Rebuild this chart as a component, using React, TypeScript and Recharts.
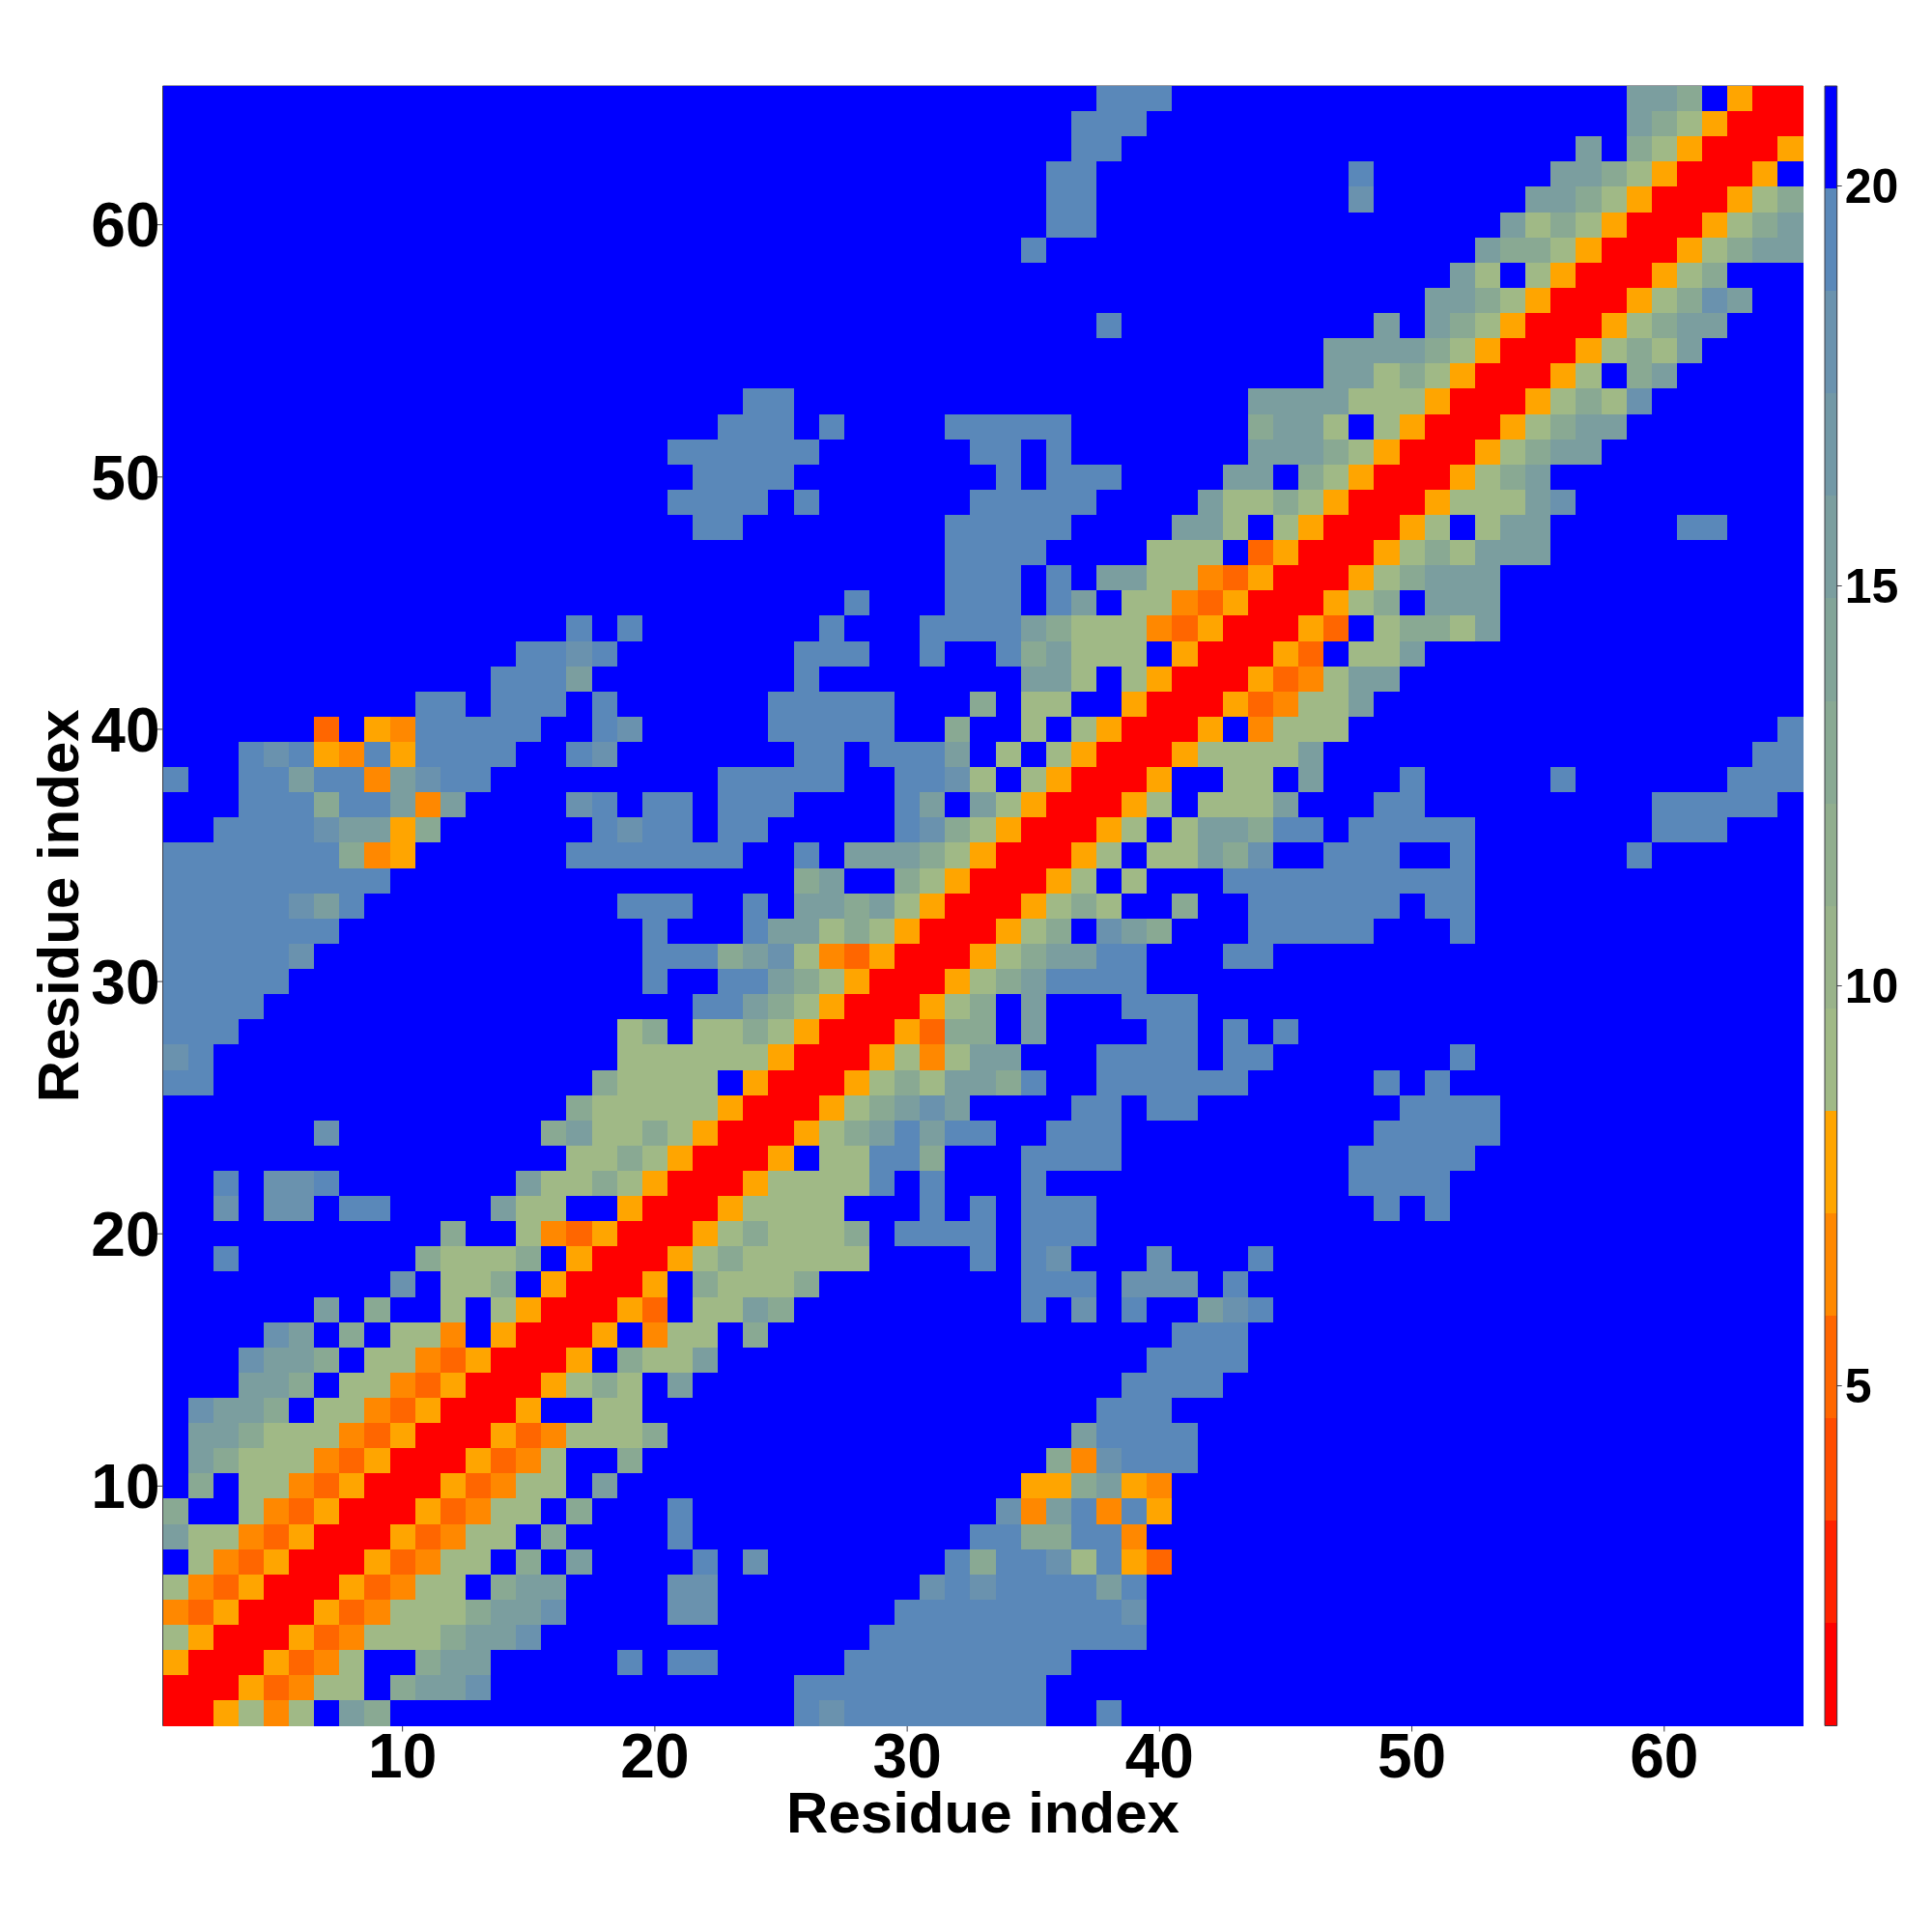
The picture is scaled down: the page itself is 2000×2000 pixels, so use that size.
import { ScatterChart, Scatter, BarChart, Bar, XAxis, YAxis } from 'recharts'

// Contact map rows from residue 65 (top) down to residue 1, as "column(s)+level" runs. Anything not listed is blue.
const contactRuns: string[] = [
  '38-40s 59-60u 61v 63a 64-65r',
  '37-39s 59u 60v 61g 62a 63-65r',
  '37-38s 57u 59v 60g 61a 62-64r 65a',
  '36-37s 48s 56-57u 58v 59g 60a 61-63r 64a',
  '36-37s 48t 55-56u 57v 58g 59a 60-62r 63a 64g 65v',
  '36-37s 54u 55g 56v 57g 58a 59-61r 62a 63g 64v 65u',
  '35s 53u 54-55v 56g 57a 58-60r 61a 62g 63v 64-65u',
  '52u 53g 55g 56a 57-59r 60a 61g 62v',
  '51-52u 53v 54g 55a 56-58r 59a 60g 61v 62t 63u',
  '38s 49u 51u 52v 53g 54a 55-57r 58a 59g 60v 61-62u',
  '47-50u 51v 52g 53a 54-56r 57a 58g 59v 60g 61u',
  '47-48u 49g 50v 51g 52a 53-55r 56a 57g 59v 60u',
  '24-25s 44-47u 48-50g 51a 52-54r 55a 56g 57v 58g 59t',
  '23-25s 27s 32-36s 44v 45-46u 47g 49g 50a 51-53r 54a 55g 56v 57-58u',
  '21-26s 33-34s 36s 44-46u 47v 48g 49a 50-52r 53a 54g 55v 56-57u',
  '22-25s 34s 36-38s 43-44u 46v 47g 48a 49-51r 52a 53g 54v 55u',
  '21-24s 26s 33-37s 42u 43-44g 45v 46g 47a 48-50r 51a 52-54g 55u 56t',
  '22-23s 32-36s 41-42u 43g 45g 46a 47-49r 50a 51g 53g 54-55u 61-62s',
  '32-35s 40-42g 44d 45a 46-48r 49a 50g 51v 52g 53-55u',
  '32-34s 36s 38-39u 40-41g 42o 43d 44a 45-47r 48a 49g 50v 51-53u',
  '28s 32-34s 36s 37u 39-40g 41o 42d 43a 44-46r 47a 48g 49v 51-53u',
  '17s 19s 27s 31-34s 35u 36v 37-39g 40o 41d 42a 43-45r 46a 47d 49g 50-51v 52g 53u',
  '15-16s 17t 18s 26-28s 31s 34s 35v 36u 37-39g 41a 42-44r 45a 46d 48-49g 50u',
  '14-16s 17u 26s 35-36u 37g 39g 40a 41-43r 44a 45d 46o 47g 48-49u',
  '11-12s 14-16s 18s 25-29s 33v 35-36g 39a 40-42r 43a 44d 45o 46-47g 48u',
  '7d 9a 10o 11-15s 18s 19t 25-29s 32v 35g 37g 38a 39-41r 42a 44o 45-47g 65s',
  '4s 5t 6s 7a 8o 9s 10a 11-14s 17s 18t 26-27s 29-31s 32u 34g 36g 37a 38-40r 41a 42-45g 46u 64-65s',
  '1s 4-5s 6u 7-8s 9o 10u 11t 12-13s 23-27s 30-31s 32t 33g 35g 36a 37-39r 40a 43-44g 46u 50s 56s 63-65s',
  '4-6s 7v 8-9s 10u 11o 12u 17t 18s 20-21s 23-25s 30s 31u 33u 34g 35a 36-38r 39a 40g 42-44g 45u 49-50s 60-64s',
  '3-6s 7t 8-9u 10a 11v 18s 19t 20-21s 23-24s 30s 31t 32v 33g 34a 35-37r 38a 39g 41g 42-43u 44v 45-46s 48-52s 60-62s',
  '1-7s 8v 9o 10a 17-23s 26s 28-30u 31v 32g 33a 34-36r 37a 38g 40-41g 42u 43v 44t 47-49s 52s 59s',
  '1-9s 26v 27u 30v 31g 32a 33-35r 36a 37g 39g 43-52s',
  '1-5s 6t 7u 8s 19-21s 24s 26-27u 28v 29u 30g 31a 32-34r 35a 36g 37v 38g 41v 44-49s 51-52s',
  '1-7s 20s 24s 25-26u 27g 28v 29g 30a 31-33r 34a 35g 36v 38t 39u 40v 44-48s 52s',
  '1-5s 6t 20-22s 23v 24u 25t 26g 27o 28d 29a 30-32r 33a 34g 35v 36-37u 38-39s 43-44s',
  '1-5s 20s 23-24s 25u 26v 27g 28a 29-31r 32a 33g 34v 35u 36-39s',
  '1-4s 22-23s 24u 25v 26g 27a 28-30r 31a 32g 33v 35u 39-41s',
  '1-3s 19g 20v 22-23g 24v 25g 26a 27-29r 30a 31d 32-33v 35u 40-41s 43s 45s',
  '1t 2s 19-24g 25a 26-28r 29a 30g 31o 32g 33-34u 38-41s 43-44s 52s',
  '1-2s 18v 19-22g 24a 25-27r 28a 29g 30v 31g 32-33u 34v 35s 38-43s 49s 51s',
  '17v 18-22g 23a 24-26r 27a 28g 29v 30u 31t 32u 37-38s 40-41s 50-53s',
  '7t 16v 17u 18-19g 20v 21g 22a 23-25r 26a 27g 28v 29u 30s 31u 32-33s 36-38s 49-53s',
  '17-18g 19v 20g 21a 22-24r 25a 27-28g 29-30s 31v 35-38s 48-52s',
  '3s 5-6t 7s 15u 16-17g 18v 19g 20a 21-23r 24a 25-28g 29s 31s 35s 48-51s',
  '3t 5-6t 8-9s 14u 15-16g 19a 20-22r 23a 24-27g 31s 33s 35-37s 49s 51s',
  '12v 15g 16o 17d 18a 19-21r 22a 23g 24v 25-27g 28v 30-33s 35-37s',
  '3s 11v 12-14g 15v 17a 18-20r 21a 22g 23v 24-28g 33s 35s 36t 40t 44s',
  '10t 12-13g 14v 16a 17-19r 20a 22v 23-25g 26v 35-37s 39-41t 43s',
  '7u 9v 12g 14g 15a 16-18r 19a 20d 22-23g 24u 25v 35s 37t 39s 42u 43t 44s',
  '5t 6u 8v 10-11g 12o 14a 15-17r 18a 20o 21-22g 24v 41-43s',
  '4t 5-6u 7v 9-10g 11o 12d 13a 14-16r 17a 19v 20-21g 22u 40-43s',
  '4-5u 6v 8-9g 10o 11d 12a 13-15r 16a 17g 18v 19g 21u 39-42s',
  '2t 3-4u 5v 7-8g 9o 10d 11a 12-14r 15a 18-19g 38-40s',
  '2-3u 4v 5-7g 8o 9d 10a 11-13r 14a 15d 16o 17-19g 20v 37u 38-41s',
  '2u 3v 4-6g 7o 8d 9a 10-12r 13a 14d 15o 16g 19v 36v 37o 38t 39-41s',
  '2v 4-5g 6o 7d 8a 9-11r 12a 13d 14o 15-16g 18u 35-36a 37v 38u 39a 40o',
  '1v 4g 5o 6d 7a 8-10r 11a 12d 13o 14-15g 17v 21s 34t 35o 36u 37s 38o 39s 40a',
  '1u 2-3g 4o 5d 6a 7-9r 10a 11d 12o 13-14g 16v 21s 33-34s 35-36v 37-38s 39o',
  '2g 3o 4d 5a 6-8r 9a 10d 11o 12-13g 15v 17u 22s 24t 32s 33v 34-35s 36t 37g 38s 39a 40d',
  '1g 2o 3d 4a 5-7r 8a 9d 10o 11-12g 14v 15-16u 21-22t 31t 32s 33t 34-37s 38u 39s',
  '1o 2d 3a 4-6r 7a 8d 9o 10-12g 13v 14-15u 16t 21-22t 30-38s 39t',
  '1g 2a 3-5r 6a 7d 8o 9-11g 12v 13-14u 15t 29-39s',
  '1a 2-4r 5a 6d 7o 8g 11v 12-13u 19s 21-22s 28-36s',
  '1-3r 4a 5d 6o 7-8g 10v 11-12u 13t 26-35s',
  '1-2r 3a 4g 5o 6g 8u 9v 26s 27t 28-35s 38s',
]

// representative distance (angstrom) for each level letter
const levelValues: Record<string, number> = {
  r: 1.4, d: 5.2, o: 6.5, a: 7.8, g: 9.1, v: 12.9, u: 15.5, t: 18, s: 19.3,
}
const noContactValue = 20.6

const bandColors = [
  '#ff0000', '#ff2200', '#ff4c00', '#ff6600', '#ff8800', '#ffa500',
  '#a0b986', '#99b38a', '#91ae8e', '#89a993', '#82a498', '#7b9e9f',
  '#7298a6', '#6a92ae', '#5a88b9', '#0000ff',
]
const colorMin = 0.75
const colorMax = 21.25
const bandStep = (colorMax - colorMin) / bandColors.length

const residueTicks = [10, 20, 30, 40, 50, 60]
const colorTicks = [5, 10, 15, 20]

const FONT = '"Liberation Sans", Arial, sans-serif'
const PLOT_LEFT = 168.5
const PLOT_RIGHT = 1866.5
const PLOT_TOP = 89
const PLOT_BOTTOM = 1786.5
const CELL_W = (PLOT_RIGHT - PLOT_LEFT) / 65
const CELL_H = (PLOT_BOTTOM - PLOT_TOP) / 65
const FRAME = '#3c3c46'

function colorFor(value: number) {
  const i = Math.min(bandColors.length - 1, Math.floor((value - colorMin) / bandStep))
  return bandColors[i]
}

interface Cell {
  x: number
  y: number
  value: number
}

function buildCells(): Cell[] {
  const cells: Cell[] = []
  contactRuns.forEach((runs, r) => {
    const y = 65 - r
    const values: number[] = new Array(65).fill(noContactValue)
    runs.split(' ').forEach((run) => {
      const m = run.match(/^(\d+)(?:-(\d+))?([a-z])$/)
      if (!m) return
      const from = Number(m[1])
      const to = m[2] ? Number(m[2]) : from
      for (let c = from; c <= to; c++) values[c - 1] = levelValues[m[3]]
    })
    values.forEach((value, c) => cells.push({ x: c + 1, y, value }))
  })
  return cells
}

const cells = buildCells()

const CellRect = (props: any) => {
  const { cx, cy, payload } = props
  return (
    <rect
      x={cx - CELL_W / 2}
      y={cy - CELL_H / 2}
      width={CELL_W}
      height={CELL_H}
      fill={colorFor(payload.value)}
      shapeRendering="crispEdges"
    />
  )
}

const colorRow: Record<string, number | string> = { name: 'scale', base: colorMin }
bandColors.forEach((_, i) => {
  colorRow['band' + i] = bandStep
})

const tickFont = { fontSize: 64, fontWeight: 700, fontFamily: FONT, fill: '#000' }
const labelFont = { fontSize: 60, fontWeight: 700, fontFamily: FONT, fill: '#000' }

export default function App() {
  return (
    <div style={{ position: 'absolute', left: 0, top: 0, width: 2000, height: 2000, background: '#fff' }}>
      <div style={{ position: 'absolute', left: 0, top: 0 }}>
        <ScatterChart width={2000} height={2000} margin={{ top: 0, right: 0, bottom: 0, left: 0 }}>
          <XAxis
            xAxisId="bottom"
            type="number"
            dataKey="x"
            domain={[0.5, 65.5]}
            ticks={residueTicks}
            height={2000 - PLOT_BOTTOM}
            tick={tickFont}
            tickSize={6}
            tickMargin={2}
            stroke={FRAME}
            interval={0}
            label={{ value: 'Residue index', position: 'insideBottom', offset: 103, ...labelFont }}
          />
          <XAxis
            xAxisId="top"
            orientation="top"
            type="number"
            domain={[0.5, 65.5]}
            ticks={residueTicks}
            height={PLOT_TOP}
            tick={false}
            tickSize={6}
            stroke={FRAME}
            interval={0}
          />
          <YAxis
            yAxisId="left"
            type="number"
            dataKey="y"
            domain={[0.5, 65.5]}
            ticks={residueTicks}
            width={PLOT_LEFT}
            tick={tickFont}
            tickSize={6}
            tickMargin={-3}
            stroke={FRAME}
            interval={0}
            label={{ value: 'Residue index', position: 'insideLeft', angle: -90, offset: 30, dx: 30, ...labelFont, style: { textAnchor: 'middle' } }}
          />
          <YAxis
            yAxisId="right"
            orientation="right"
            type="number"
            domain={[0.5, 65.5]}
            ticks={residueTicks}
            width={2000 - PLOT_RIGHT}
            tick={false}
            tickSize={6}
            stroke={FRAME}
            interval={0}
          />
          <Scatter
            data={cells}
            xAxisId="bottom"
            yAxisId="left"
            shape={CellRect}
            isAnimationActive={false}
          />
        </ScatterChart>
      </div>
      <div style={{ position: 'absolute', left: 1800, top: 0 }}>
        <BarChart
          width={200}
          height={2000}
          data={[colorRow]}
          barCategoryGap={0}
          margin={{ top: 0, right: 0, bottom: 0, left: 0 }}
        >
          <XAxis dataKey="name" height={2000 - PLOT_BOTTOM} tick={false} tickLine={false} stroke={FRAME} />
          <XAxis xAxisId="top" dataKey="name" orientation="top" height={PLOT_TOP} tick={false} tickLine={false} stroke={FRAME} />
          <YAxis
            yAxisId="left"
            type="number"
            domain={[colorMin, colorMax]}
            allowDataOverflow
            width={89}
            tick={false}
            tickLine={false}
            stroke={FRAME}
          />
          <YAxis
            yAxisId="right"
            orientation="right"
            type="number"
            domain={[colorMin, colorMax]}
            allowDataOverflow
            ticks={colorTicks}
            interval={0}
            width={98.3}
            tickSize={5}
            tickMargin={3}
            stroke={FRAME}
            tick={{ fontSize: 50, fontWeight: 700, fontFamily: FONT, fill: '#000', textAnchor: 'start' }}
          />
          <Bar dataKey="base" yAxisId="right" stackId="scale" fill="none" isAnimationActive={false} />
          {bandColors.map((c, i) => (
            <Bar
              key={c}
              dataKey={'band' + i}
              yAxisId="right"
              stackId="scale"
              fill={c}
              shapeRendering="crispEdges"
              isAnimationActive={false}
            />
          ))}
        </BarChart>
      </div>
    </div>
  )
}
